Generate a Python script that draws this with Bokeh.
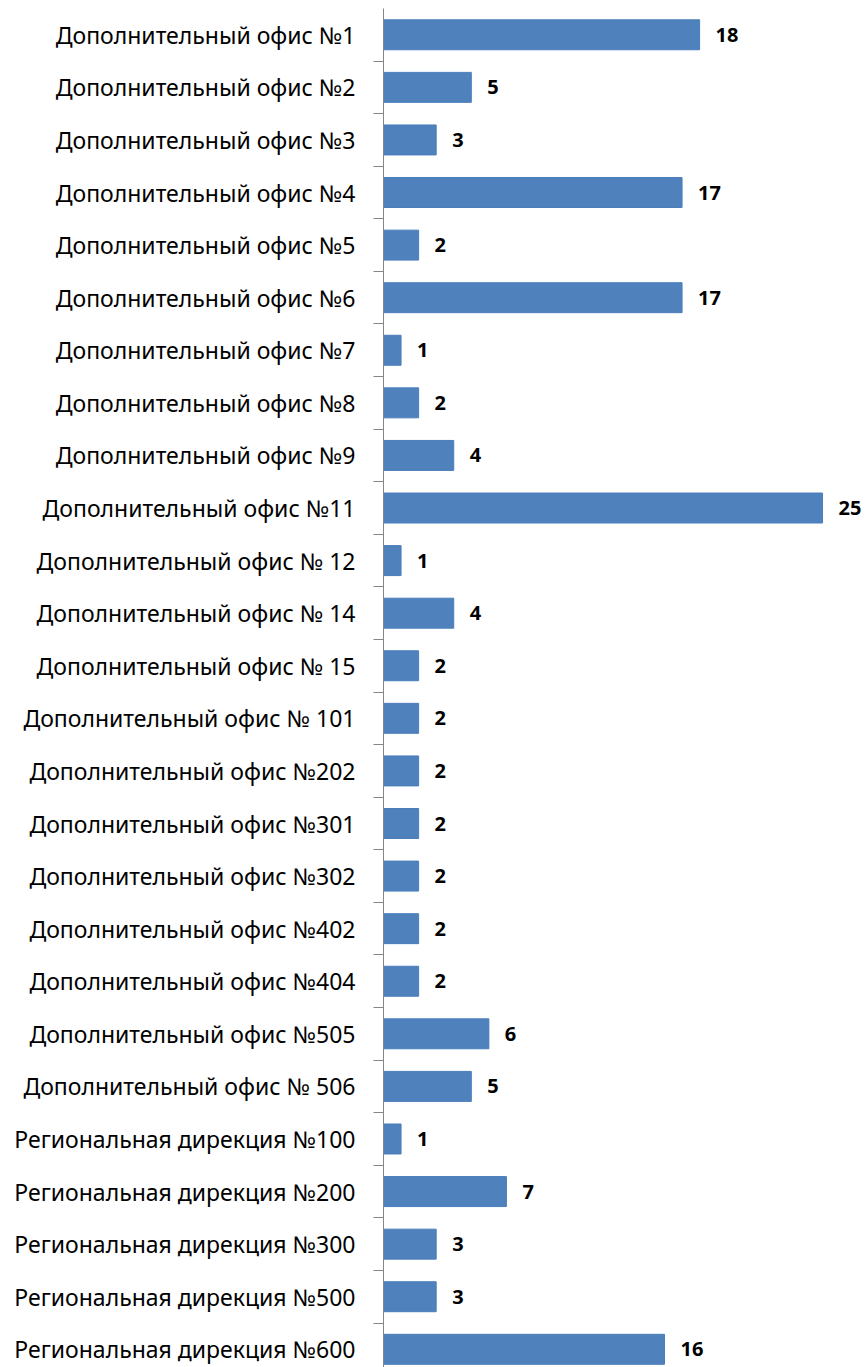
from bokeh.plotting import figure
from bokeh.models import Range1d, FixedTicker, ColumnDataSource
from bokeh.embed import file_html
from bokeh.resources import INLINE
from bokeh.core.properties import value

categories = [
    "Дополнительный офис №1", "Дополнительный офис №2", "Дополнительный офис №3",
    "Дополнительный офис №4", "Дополнительный офис №5", "Дополнительный офис №6",
    "Дополнительный офис №7", "Дополнительный офис №8", "Дополнительный офис №9",
    "Дополнительный офис №11", "Дополнительный офис № 12", "Дополнительный офис № 14",
    "Дополнительный офис № 15", "Дополнительный офис № 101", "Дополнительный офис №202",
    "Дополнительный офис №301", "Дополнительный офис №302", "Дополнительный офис №402",
    "Дополнительный офис №404", "Дополнительный офис №505", "Дополнительный офис № 506",
    "Региональная дирекция №100", "Региональная дирекция №200", "Региональная дирекция №300",
    "Региональная дирекция №500", "Региональная дирекция №600",
]
values = [18, 5, 3, 17, 2, 17, 1, 2, 4, 25, 1, 4, 2, 2, 2, 2, 2, 2, 2, 6, 5, 1, 7, 3, 3, 16]

n = len(categories)
ypos = [n - 1 - i for i in range(n)]
src = ColumnDataSource(dict(y=ypos, v=values, lab=[str(v) for v in values]))

p = figure(width=867, height=1367, output_backend="svg", toolbar_location=None,
           x_range=Range1d(0, 27.56), y_range=Range1d(-0.346, n - 0.5),
           min_border_left=383, min_border_top=8, min_border_bottom=0, min_border_right=0,
           outline_line_color=None)
p.grid.visible = False
p.xaxis.visible = False

p.hbar(y="y", right="v", left=0, height=0.57, source=src,
       fill_color="#4F81BD", line_color="#4A7EBB", line_width=1)
p.text(x="v", y="y", text="lab", source=src, x_offset=16, text_baseline="middle",
       text_align="left", text_font=value("Noto Sans"), text_font_style="bold",
       text_font_size="20px", text_color="#000000")

ax = p.yaxis[0]
ax.ticker = FixedTicker(ticks=ypos, minor_ticks=[k + 0.5 for k in range(n - 1)])
ax.major_label_overrides = {ypos[i]: categories[i] for i in range(n)}
ax.major_tick_out = 0
ax.major_tick_in = 0
ax.minor_tick_out = 10
ax.minor_tick_in = 0
ax.minor_tick_line_color = "#868686"
ax.axis_line_color = "#868686"
ax.axis_line_width = 1
ax.major_label_standoff = 18
ax.major_label_text_font = "Noto Sans"
ax.major_label_text_font_size = "23px"
ax.major_label_text_color = "#000000"

open("out.html", "w").write(file_html(p, INLINE))
